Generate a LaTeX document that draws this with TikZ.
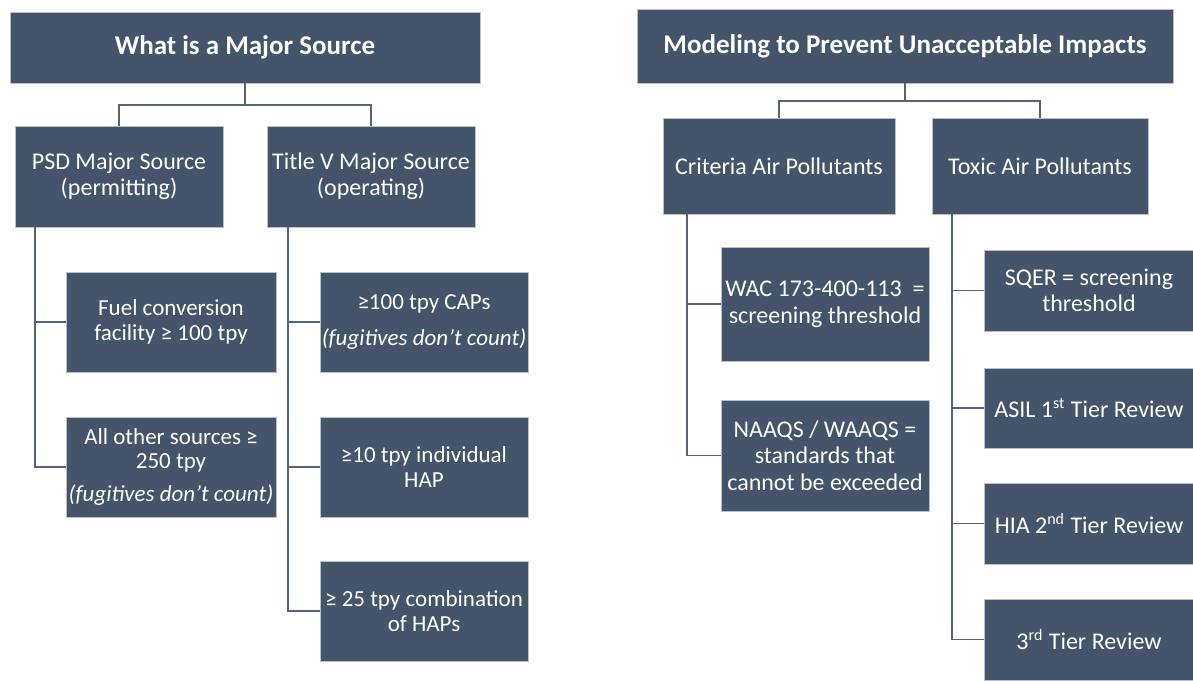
\documentclass[tikz,border=0pt]{standalone}
\usepackage{fontspec}
\setmainfont{Carlito}
\usetikzlibrary{calc}
\definecolor{boxfill}{HTML}{44546A}
\definecolor{boxline}{HTML}{B8C0CA}
\definecolor{linecol}{HTML}{56647A}

\tikzstyle{head-box}=[rectangle, draw=boxline, fill=boxfill, text=white, align=center,
                      inner sep=0pt, font=\bfseries\fontsize{13.5}{16}\selectfont]
\tikzstyle{group-box}=[rectangle, draw=boxline, fill=boxfill, text=white, align=center,
                       inner sep=0pt, font=\fontsize{12}{12.8}\selectfont]
\tikzstyle{item-box}=[group-box, font=\fontsize{11.5}{12.2}\selectfont]
\tikzstyle{wide-item-box}=[group-box, font=\fontsize{12}{13.3}\selectfont]
\tikzstyle{edge} = [draw, line width=0.85pt, color=linecol]

\begin{document}
\begin{tikzpicture}[x=0.5pt, y=-0.5pt]
    \useasboundingbox (0,0) rectangle (1193,680);
    % First we draw the two headings
    \node[head-box, minimum width=235pt, minimum height=35.5pt] (major) at (245,47.5)
      {What is a Major Source};
    \node[head-box, minimum width=268pt, minimum height=37pt] (model) at (905,46)
      {Modeling to Prevent Unacceptable Impacts};
    % Then the groups under them
    \foreach \pos/\name/\bw/\bh/\txt in {{(119,176.5)/psd/104pt/50.5pt/{PSD Major Source\\(permitting)}},
    	{(371,176.5)/titlev/104pt/50.5pt/{Title V Major Source\\(operating)}},
    	{(779,166)/criteria/116pt/48pt/{Criteria Air Pollutants}},
    	{(1040,166)/toxic/108pt/48pt/{Toxic Air Pollutants}}}
      \node[group-box, minimum width=\bw, minimum height=\bh] (\name) at \pos {\txt};
    % and the items under each group
    \foreach \pos/\name/\bw/\bh/\txt in {{(171,322)/fuel/105pt/50pt/{Fuel conversion\\facility ≥ 100 tpy}},
    	{(171,467)/other/105pt/50pt/{All other sources ≥\\250 tpy\\[4.5pt]\textit{(fugitives don’t count)}}},
    	{(424,322)/caps/104pt/50pt/{≥100 tpy CAPs\\[5.5pt]\textit{(fugitives don’t count)}}},
    	{(424,467)/hap/104pt/50pt/{≥10 tpy individual\\HAP}},
    	{(424,611)/haps/104pt/50pt/{≥ 25 tpy combination\\of HAPs}}}
      \node[item-box, minimum width=\bw, minimum height=\bh] (\name) at \pos {\txt};
    \foreach \pos/\name/\bw/\bh/\txt in {{(825,304)/wac/104pt/57pt/{WAC 173-400-113 \ =\\screening threshold}},
    	{(825,455.5)/naaqs/104pt/55.5pt/{NAAQS / WAAQS =\\standards that\\cannot be exceeded}},
    	{(1089,290.5)/sqer/105pt/40.5pt/{SQER = screening\\threshold}},
    	{(1089,408)/asil/105pt/40pt/{ASIL 1\textsuperscript{st} Tier Review}},
    	{(1089,523.5)/hia/105pt/40.5pt/{HIA 2\textsuperscript{nd} Tier Review}},
    	{(1089,639.5)/tier3/105pt/40.5pt/{3\textsuperscript{rd} Tier Review}}}
      \node[wide-item-box, minimum width=\bw, minimum height=\bh] (\name) at \pos {\txt};
    % Forks under the headings and buses under the groups
    \coordinate (major-fork) at (245,105);
    \coordinate (model-fork) at (905,101);
    \coordinate (psd-bus) at (35,227);
    \coordinate (titlev-bus) at (288,227);
    \coordinate (criteria-bus) at (687,214);
    \coordinate (toxic-bus) at (952,214);
    % Connect headings with their groups
    \path[edge] (major) -- (major-fork);
    \path[edge] (psd.north) |- (major-fork) -| (titlev.north);
    \path[edge] (model) -- (model-fork);
    \path[edge] (criteria.north) |- (model-fork) -| (toxic.north);
    % Connect groups with their items
    \foreach \source/ \dest in {psd-bus/fuel, psd-bus/other, titlev-bus/caps, titlev-bus/hap,
    							titlev-bus/haps, criteria-bus/wac, criteria-bus/naaqs,
    							toxic-bus/sqer, toxic-bus/asil, toxic-bus/hia, toxic-bus/tier3}
      \path[edge] (\source) |- (\dest.west);
\end{tikzpicture}
\end{document}
